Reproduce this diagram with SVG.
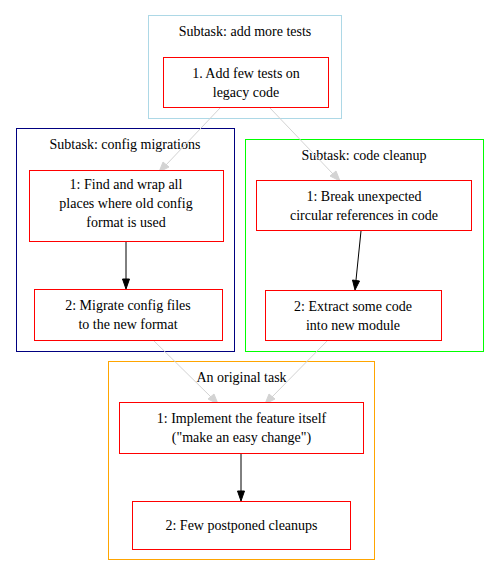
<svg xmlns="http://www.w3.org/2000/svg" width="499" height="576" viewBox="0 0 499 576">
<style>
.t{font-family:'Liberation Serif','Times New Roman','DejaVu Serif',Tinos,serif;font-size:14px;text-anchor:middle;fill:#000}
.cl{fill:none;stroke-width:1}
.nd{fill:#fff;stroke:#ff0000;stroke-width:1}
.e{fill:none;stroke:#000;stroke-width:1}
.g{fill:none;stroke:#d3d3d3;stroke-width:1}
.ah{fill:#000;stroke:#000}
.gh{fill:#d3d3d3;stroke:#d3d3d3}
</style>
<rect width="499" height="576" fill="#fff"/>
<g id="cluster_tests">
<rect class="cl" x="148.5" y="15.5" width="193" height="103" style="stroke:#add8e6"/>
<text class="t" x="245" y="36">Subtask: add more tests</text>
</g>
<g id="cluster_config">
<rect class="cl" x="16.5" y="128.5" width="218" height="223" style="stroke:#000080"/>
<text class="t" x="125" y="149">Subtask: config migrations</text>
</g>
<g id="cluster_cleanup">
<rect class="cl" x="245.5" y="139.5" width="238" height="212" style="stroke:lime"/>
<text class="t" x="364" y="160">Subtask: code cleanup</text>
</g>
<g id="cluster_original">
<rect class="cl" x="108.5" y="361.5" width="266" height="198" style="stroke:#ffa500"/>
<text class="t" x="241.5" y="382">An original task</text>
</g>
<g id="connectors">
<path class="g" d="M220,108 L166,165"/>
<polygon class="gh" points="169,167 159,172 163,162"/>
<path class="g" d="M270,108 L333,174"/>
<polygon class="gh" points="330,176 340,181 336,171"/>
<path class="g" d="M153,340 L211,397"/>
<polygon class="gh" points="208,399 218,404 214,394"/>
<path class="g" d="M328,340 L272,397"/>
<polygon class="gh" points="269,394 265,404 275,399"/>
<path class="e" d="M126,241 L126,279"/>
<polygon class="ah" points="122.5,279 126,289 129.5,279"/>
<path class="e" d="M361,231 L356,280"/>
<polygon class="ah" points="352.5,280 355,290 359.5,281"/>
<path class="e" d="M241,453 L241,491"/>
<polygon class="ah" points="237.5,491 241,501 244.5,491"/>
</g>
<g id="node_tests1">
<rect class="nd" x="163.5" y="57.5" width="165" height="50"/>
<text class="t" x="246" y="78">1. Add few tests on</text>
<text class="t" x="246" y="97">legacy code</text>
</g>
<g id="node_config1">
<rect class="nd" x="29.5" y="170.5" width="194" height="71"/>
<text class="t" x="126" y="189">1: Find and wrap all</text>
<text class="t" x="126" y="208">places where old config</text>
<text class="t" x="126" y="227">format is used</text>
</g>
<g id="node_config2">
<rect class="nd" x="34.5" y="289.5" width="188" height="51"/>
<text class="t" x="128" y="310">2: Migrate config files</text>
<text class="t" x="128" y="329">to the new format</text>
</g>
<g id="node_cleanup1">
<rect class="nd" x="256.5" y="180.5" width="215" height="50"/>
<text class="t" x="364" y="201">1: Break unexpected</text>
<text class="t" x="364" y="220">circular references in code</text>
</g>
<g id="node_cleanup2">
<rect class="nd" x="265.5" y="290.5" width="176" height="50"/>
<text class="t" x="353" y="311">2: Extract some code</text>
<text class="t" x="353" y="330">into new module</text>
</g>
<g id="node_orig1">
<rect class="nd" x="119.5" y="402.5" width="244" height="51"/>
<text class="t" x="241.5" y="423">1: Implement the feature itself</text>
<text class="t" x="241.5" y="442">("make an easy change")</text>
</g>
<g id="node_orig2">
<rect class="nd" x="132.5" y="501.5" width="218" height="48"/>
<text class="t" x="241.5" y="530">2: Few postponed cleanups</text>
</g>
</svg>
